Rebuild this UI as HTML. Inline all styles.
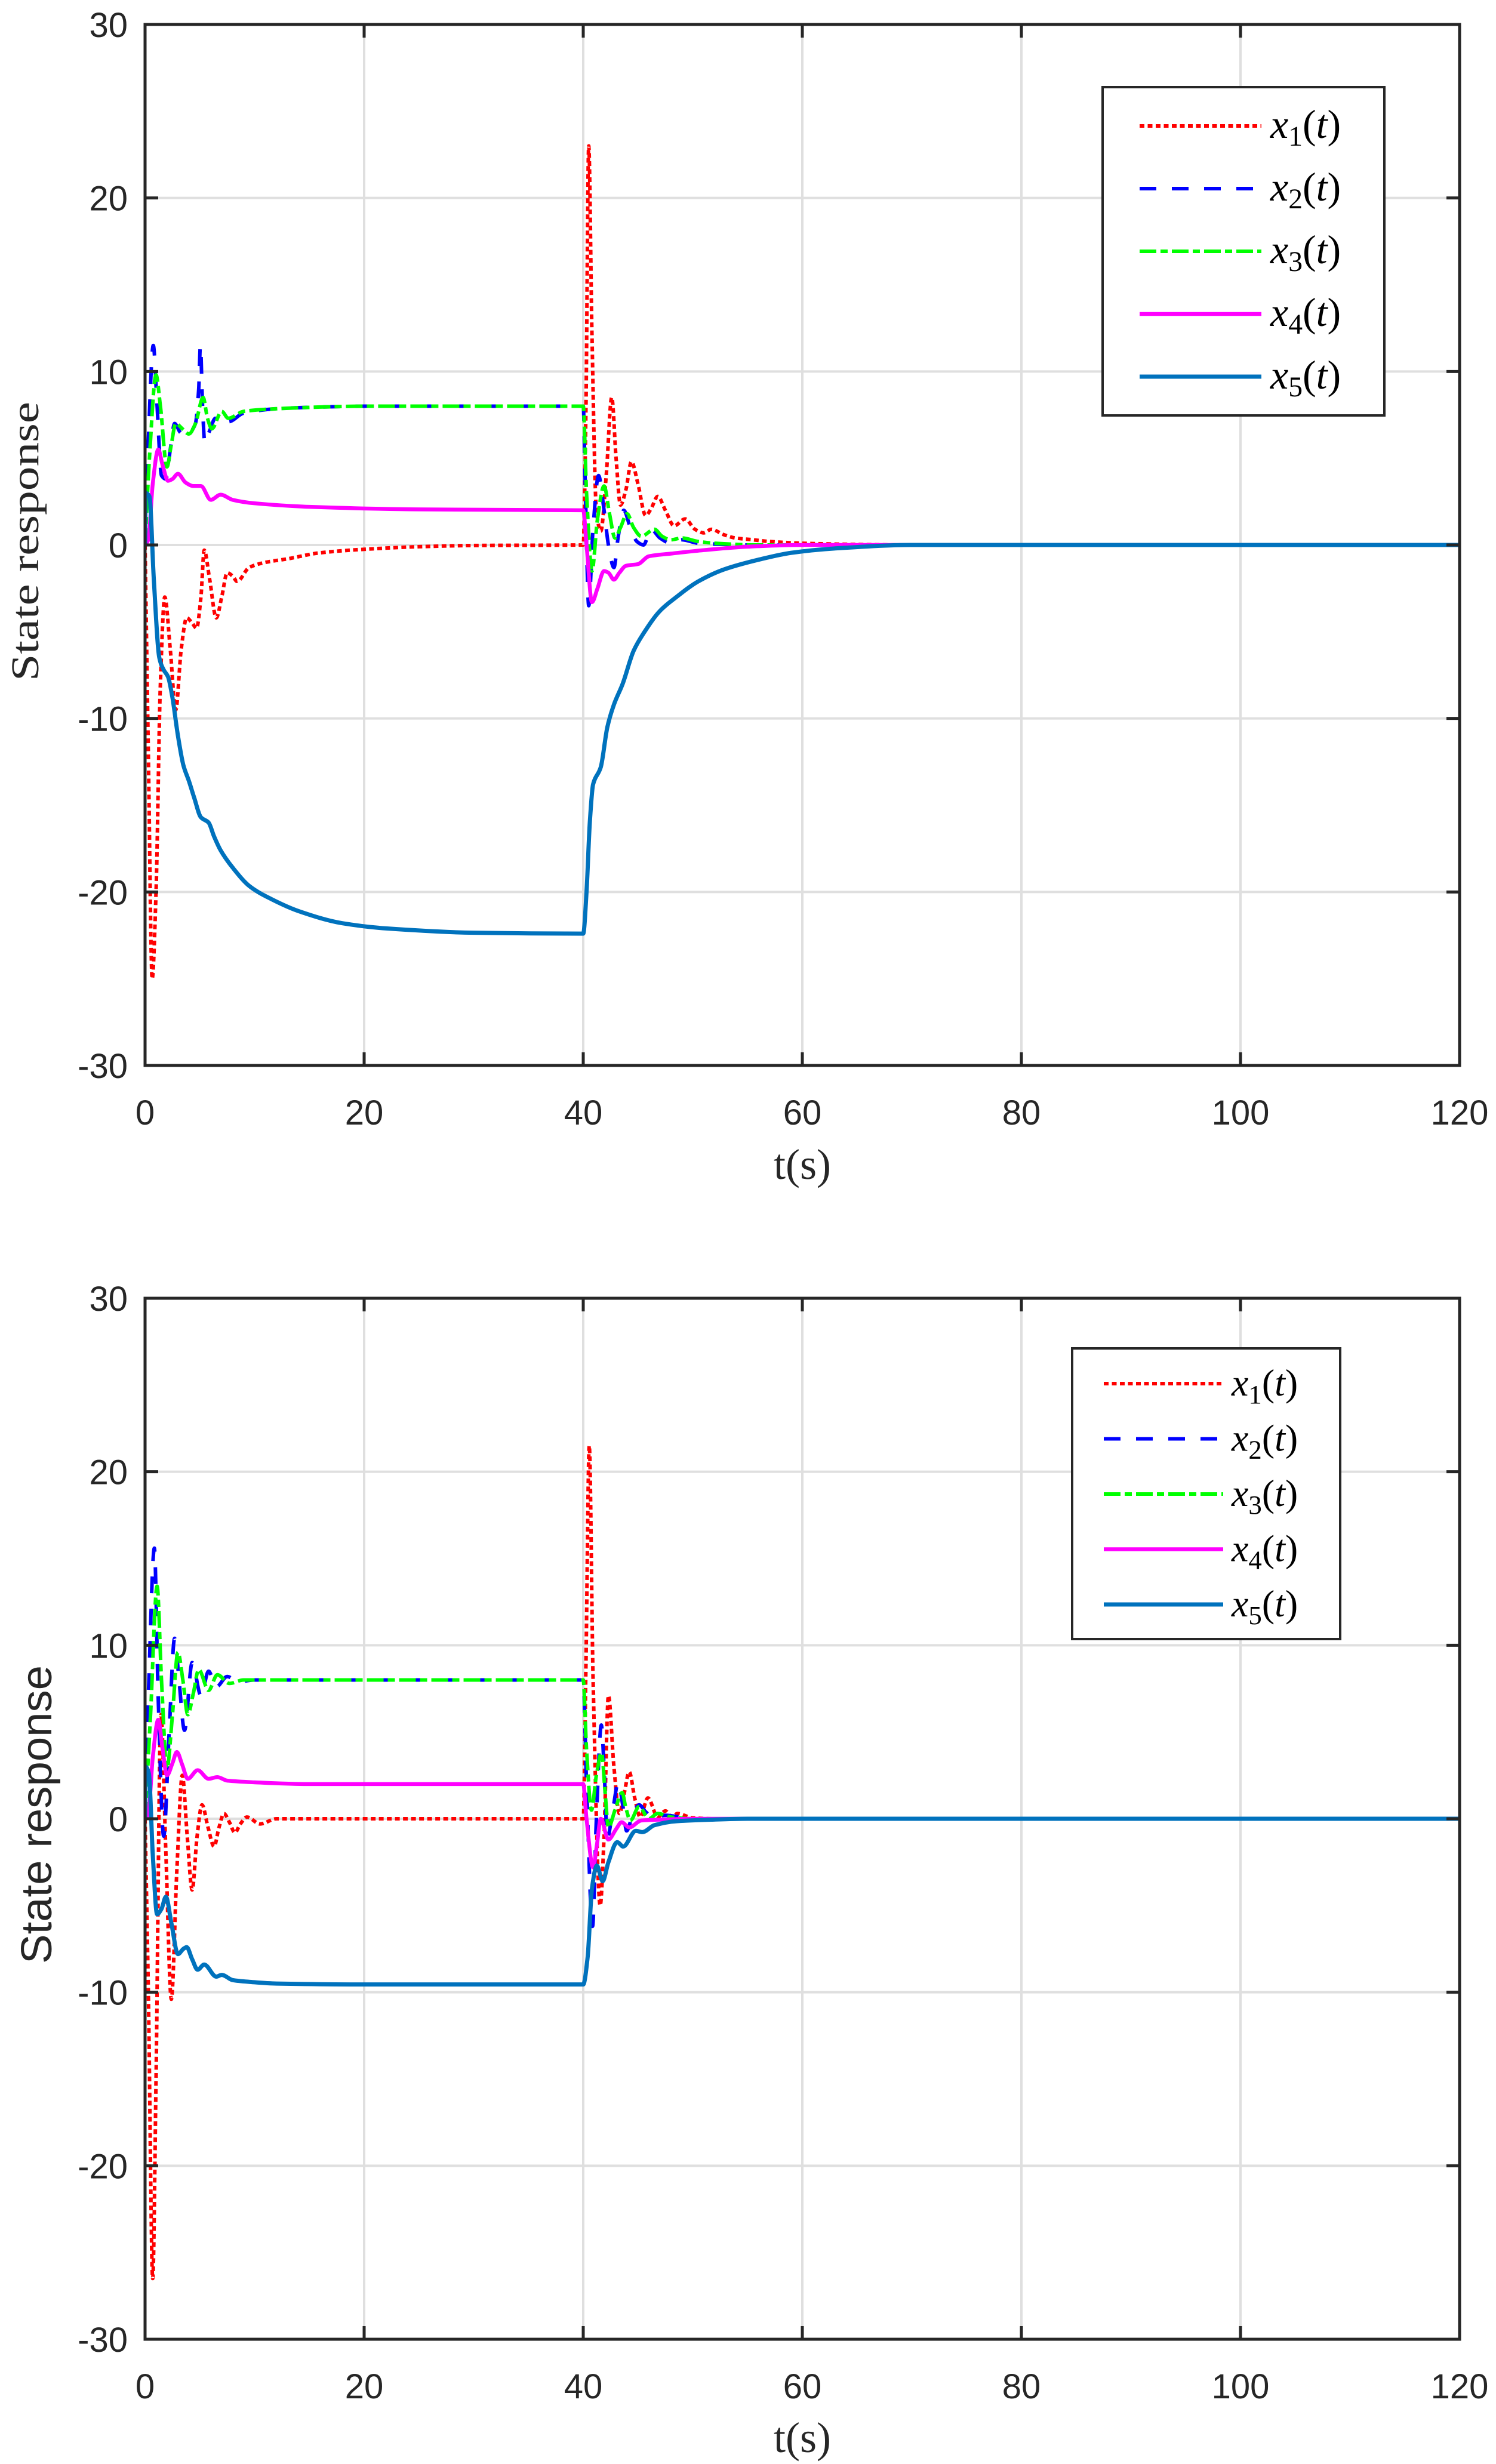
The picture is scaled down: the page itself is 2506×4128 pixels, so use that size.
<!DOCTYPE html>
<html><head><meta charset="utf-8"><style>
html,body{margin:0;padding:0;background:#fff;}
svg{display:block;}
</style></head><body>
<svg id="fig" xmlns="http://www.w3.org/2000/svg" width="2506" height="4128" viewBox="0 0 2506 4128"></svg>
<script>
// ---- chart data (shared axes) ----
const xTicks = [0,20,40,60,80,100,120];
const yTicks = [-30,-20,-10,0,10,20,30];
const seriesNames = ["x1","x2","x3","x4","x5"];

// ---- top plot ----
const topX1T = [0,0.3,0.65,1.0,1.4,1.8,2.3,2.8,3.3,3.8,4.3,4.7,5.1,5.4,5.9,6.5,7.0,7.5,8.0,8.4,9.5,11,13,16,20,25,30,40,40.25,40.5,40.8,41.2,41.6,42.1,42.6,43.0,43.4,43.9,44.4,45.0,45.7,46.2,46.8,47.5,48.3,49.3,50.2,51.0,51.7,52.8,53.9,55.5,57,60,65,70,120];
const topX1V = [0,-12,-25,-20,-8,-3,-6,-9.5,-6,-4.2,-4.5,-4.8,-3,-0.3,-2,-4.2,-3,-1.6,-1.8,-2.1,-1.3,-1.0,-0.8,-0.45,-0.25,-0.1,-0.03,0,8,23,12,2,0.8,4,8.5,5,2.3,3.2,4.8,3.5,1.7,2.1,2.8,2,1.1,1.5,0.9,0.7,0.9,0.6,0.4,0.3,0.2,0.1,0.03,0,0];
const topX2T = [0,0.3,0.75,1.1,1.5,1.9,2.3,2.7,3.2,3.6,4.1,4.6,4.9,5.05,5.25,5.45,5.9,6.4,7.0,7.6,9,12,16,20,40,40.2,40.5,40.9,41.4,41.9,42.3,42.8,43.2,43.7,44.3,44.9,45.5,46.2,47,48,49,50.5,52,55,120];
const topX2V = [0,6,11.5,8,4,3.8,5.5,7.0,6.5,6.3,6.5,7.0,9,11.5,8,5.9,6.6,7.3,7.4,7.1,7.6,7.85,7.95,8,8,3,-3.5,1,4,2,0,-1.3,0.5,2,1,0.2,0,0.9,0.4,0.1,0.3,0.1,0.05,0,0];
const topX3T = [0,0.4,1.0,1.4,2.0,2.4,2.8,3.4,4.0,4.6,5.3,5.7,6.1,7.0,7.6,9,12,16,20,40,40.3,40.8,41.3,41.9,42.4,42.9,43.4,44,44.6,45.3,46.5,47.2,48,49,50.5,52,56,120];
const topX3V = [0,5,9.8,8,4.5,5.8,7,6.7,6.4,7.0,8.5,7.3,6.7,7.7,7.3,7.7,7.85,7.95,8,8,3,-1.5,1.5,3.4,1.8,0.4,1.0,1.8,1.0,0.5,0.9,0.5,0.3,0.4,0.2,0.1,0,0];
const topX4T = [0,0.3,0.7,1.2,1.6,2.1,2.5,3.0,3.7,4.4,5.1,6.0,6.9,8,10,15,25,40,40.3,40.8,41.3,41.9,42.3,42.8,43.3,43.9,45,46,48,51,55,60,120];
const topX4V = [0,0.3,3.5,5.5,4.6,3.7,3.8,4.1,3.6,3.4,3.4,2.6,2.9,2.6,2.4,2.2,2.05,2,0,-3.3,-2.5,-1.5,-1.6,-2.0,-1.6,-1.2,-1.1,-0.65,-0.5,-0.3,-0.1,0,0];
const topX5T = [0,0.05,0.4,0.8,1.3,1.7,2.1,2.5,3.0,3.5,4.0,4.5,5.1,5.8,6.3,6.9,8,9.6,11.5,14,18,22,30,40,40.3,40.6,40.9,41.6,42.2,42.8,43.6,44.6,45.5,47,48.3,50.5,52.9,56,59,63,70,120];
const topX5V = [0,3,2.8,-2,-6.5,-7.2,-7.6,-8.8,-11,-12.7,-13.6,-14.6,-15.7,-16,-16.8,-17.6,-18.6,-19.7,-20.4,-21.1,-21.8,-22.1,-22.35,-22.4,-20,-16,-13.8,-12.8,-10.5,-9.2,-8,-6.1,-5.1,-3.8,-3.1,-2.1,-1.4,-0.85,-0.45,-0.2,0,0];

// ---- bottom plot ----
const botX1T = [0,0.3,0.7,1.0,1.45,1.9,2.4,2.9,3.4,3.85,4.3,4.75,5.2,5.75,6.3,6.75,7.2,7.7,8.2,8.7,9.3,10.5,12,40,40.25,40.55,40.9,41.55,41.9,42.3,42.8,43.3,43.75,44.2,44.7,45.2,45.9,46.8,47.5,48.1,48.6,50,52,120];
const botX1V = [0,-10,-26.5,-15,6,-2,-10.4,-3,2.5,-1,-4.1,-1,0.8,-0.5,-1.6,-0.5,0.3,-0.2,-0.8,-0.3,0.1,-0.3,0,0,9,21.5,8,-5,-1,7.1,3,0.3,1.5,2.7,1.2,0.1,1.2,0.1,0.45,0.1,0.3,0.05,0,0];
const botX2T = [0,0.35,0.85,1.2,1.7,2.2,2.7,3.1,3.6,4.3,5.1,5.8,6.5,7.5,8.5,10,40,40.3,40.85,41.2,41.65,41.9,42.2,42.7,43.2,43.6,43.96,44.5,45.1,45.7,46.3,47.5,50,120];
const botX2V = [0,8,15.6,7,-1,5,10.4,8,5.1,9,7.1,8.5,7.6,8.2,7.9,8,8,2,-6.2,0,5.4,3,-1.1,0.5,2.1,0.8,-0.7,0.2,0.8,0.4,0.1,0.2,0,0];
const botX3T = [0,0.5,1.1,1.5,2.0,2.5,3.0,3.45,3.9,4.4,4.9,5.8,6.6,7.7,9,40,40.3,40.75,41.2,41.67,42,42.3,42.9,43.55,43.9,44.3,45.1,46,46.8,48,50,120];
const botX3V = [0,6,13.4,8,2.9,6,9.6,8,6,7.2,8.6,7.4,8.3,7.8,8,8,4,0.5,2.5,3.8,1.5,-0.5,0.5,1.5,0.6,-0.1,0.7,0,0.3,0.1,0,0];
const botX4T = [0,0.3,0.7,1.2,1.6,2.0,2.5,2.9,3.4,3.9,4.8,5.8,6.6,7.5,10,15,40,40.3,40.9,41.25,41.6,42.3,43.0,43.5,44.2,45.3,47,50,120];
const botX4V = [0,0.3,3.5,5.7,4,2.5,3.2,3.85,3.1,2.3,2.8,2.3,2.4,2.2,2.1,2,2,0,-2.8,-1.5,0,-1.2,-0.6,-0.2,-0.5,-0.1,-0.05,0,0];
const botX5T = [0,0.05,0.35,0.7,1.1,1.5,1.9,2.4,3.0,3.5,3.8,4.3,4.8,5.4,6.5,7.0,8.0,9.5,12,20,40,40.4,40.8,41.25,41.77,42.3,43.1,43.65,44.8,45.4,46.5,48.5,51.7,55,120];
const botX5V = [0,3,2.6,-2,-5.5,-5.2,-4.5,-6,-7.8,-7.5,-7.4,-8.1,-8.7,-8.4,-9.1,-9.0,-9.3,-9.4,-9.5,-9.55,-9.55,-8,-4,-2.7,-3.6,-2.5,-1.35,-1.6,-0.7,-0.77,-0.37,-0.14,-0.05,0,0];

const NS = "http://www.w3.org/2000/svg";
const svg = document.getElementById("fig");
const styles = [
  {color:"#ff0000", dash:"8 5.5", w:6},
  {color:"#0000ff", dash:"28 26", w:6},
  {color:"#00ff00", dash:"28 7 12 7", w:6},
  {color:"#ff00ff", dash:"", w:6.5},
  {color:"#0072bd", dash:"", w:7}
];
function mk(tag, attrs, parent){
  const e = document.createElementNS(NS, tag);
  for (const k in attrs) e.setAttribute(k, attrs[k]);
  (parent||svg).appendChild(e);
  return e;
}
// monotone cubic (Fritsch-Carlson) smoothing: no overshoot
function smoothPath(P){
  const n = P.length;
  const d = [];
  for (let i=0;i<n-1;i++){
    const h = P[i+1][0]-P[i][0];
    d.push(h>0 ? (P[i+1][1]-P[i][1])/h : 0);
  }
  const m = new Array(n);
  m[0]=d[0]; m[n-1]=d[n-2];
  for (let i=1;i<n-1;i++){
    m[i] = (d[i-1]*d[i] <= 0) ? 0 : 2/(1/d[i-1]+1/d[i]);
  }
  let s = "M" + P[0][0].toFixed(1) + "," + P[0][1].toFixed(1);
  for (let i=0;i<n-1;i++){
    const h = (P[i+1][0]-P[i][0])/3;
    s += " C"+(P[i][0]+h).toFixed(1)+","+(P[i][1]+m[i]*h).toFixed(1)+" "+
         (P[i+1][0]-h).toFixed(1)+","+(P[i+1][1]-m[i+1]*h).toFixed(1)+" "+
         P[i+1][0].toFixed(1)+","+P[i+1][1].toFixed(1);
  }
  return s;
}
function drawPlot(cfg){
  const L=243, R=2445, T=cfg.top, B=cfg.top+1744;
  const xs = t => L + (t-0)/(120-0)*(R-L);
  const ys = v => B - (v+30)/60*(B-T);
  const g = mk("g",{});
  
  
  for (const t of xTicks){
    if (t===0||t===120) continue;
    const l = mk("line",{x1:xs(t),x2:xs(t),y1:T,y2:B,stroke:"#dfdfdf","stroke-width":4},g);
    
    
  }
  for (const v of yTicks){
    if (v===-30||v===30) continue;
    const l = mk("line",{x1:L,x2:R,y1:ys(v),y2:ys(v),stroke:"#dfdfdf","stroke-width":4},g);
    
    
  }
  const cid = "clip"+cfg.top;
  const cp = mk("clipPath",{id:cid},g);
  mk("rect",{x:L,y:T,width:R-L,height:B-T},cp);
  const sg = mk("g",{"clip-path":"url(#"+cid+")"},g);
  cfg.series.forEach((s,i)=>{
    const P = s[0].map((t,k)=>[xs(t), ys(s[1][k])]);
    const st = styles[i];
    const a = {d:smoothPath(P),fill:"none",stroke:st.color,"stroke-width":st.w,"stroke-linejoin":"round"};
    if (st.dash) a["stroke-dasharray"]=st.dash;
    const p = mk("path",a,sg);
    
    
  });
  for (const t of xTicks){
    for (const [y1,y2] of [[B,B-22],[T,T+22]]){
      const l = mk("line",{x1:xs(t),x2:xs(t),y1:y1,y2:y2,stroke:"#262626","stroke-width":5},g);
      
      
    }
    const tx = mk("text",{x:xs(t),y:cfg.xLabY,"text-anchor":"middle","font-family":"Liberation Sans, sans-serif","font-size":58,fill:"#262626"},g);
    tx.textContent = t;
    
    
  }
  for (const v of yTicks){
    for (const [x1,x2] of [[L,L+22],[R,R-22]]){
      const l = mk("line",{x1:x1,x2:x2,y1:ys(v),y2:ys(v),stroke:"#262626","stroke-width":5},g);
      
      
    }
    const tx = mk("text",{x:214,y:ys(v)+21,"text-anchor":"end","font-family":"Liberation Sans, sans-serif","font-size":58,fill:"#262626"},g);
    tx.textContent = v;
    
    
  }
  const box = mk("rect",{x:L,y:T,width:R-L,height:B-T,fill:"none",stroke:"#262626","stroke-width":5},g);
  
  
  const xt = mk("text",{x:(L+R)/2,y:cfg.xTitleY,"text-anchor":"middle","font-family":"Liberation Serif, serif","font-size":72,fill:"#262626"},g);
  xt.textContent = "t(s)";
  
  
  const yt = mk("text",{x:0,y:0,transform:"translate("+cfg.yTitleX+","+cfg.yTitleCY+") rotate(-90)","text-anchor":"middle","font-family":cfg.yFont,"font-size":cfg.yFontSize,fill:"#262626",textLength:cfg.yLen,lengthAdjust:"spacingAndGlyphs"},g);
  yt.textContent = "State response";
  
  
  const lg = cfg.legend;
  const lgg = mk("g",{},g);
  
  
  mk("rect",{x:lg.x,y:lg.y,width:lg.w,height:lg.h,fill:"#fff",stroke:"#262626","stroke-width":4},lgg);
  for (let i=0;i<5;i++){
    const y = lg.row0 + i*lg.dy;
    const st = styles[i];
    const e = mk("g",{},lgg);
    
    
    const a = {x1:lg.lx1,x2:lg.lx2,y1:y,y2:y,stroke:st.color,"stroke-width":st.w};
    if (st.dash) a["stroke-dasharray"]=st.dash;
    mk("line",a,e);
    const tx = mk("text",{x:lg.tx,y:y+20,"font-family":"Liberation Serif, serif","font-size":lg.fs,fill:"#000"},e);
    const s1 = mk("tspan",{"font-style":"italic"},tx); s1.textContent="x";
    const s2 = mk("tspan",{"font-size":lg.fs*0.7,dy:13},tx); s2.textContent=String(i+1);
    const s3 = mk("tspan",{dy:-13},tx); s3.textContent="(";
    const s4 = mk("tspan",{"font-style":"italic"},tx); s4.textContent="t";
    const s5 = mk("tspan",{},tx); s5.textContent=")";
  }
}
drawPlot({name:"top-plot", top:41, xLabY:1884, xTitleY:1975, yTitleX:64, yTitleCY:907, yFont:"Liberation Serif, serif", yFontSize:66, yLen:468,
  series:[[topX1T,topX1V],[topX2T,topX2V],[topX3T,topX3V],[topX4T,topX4V],[topX5T,topX5V]],
  legend:{x:1847,y:146,w:472,h:550,row0:211,dy:105,lx1:1909,lx2:2113,tx:2128,fs:68}});
drawPlot({name:"bottom-plot", top:2175, xLabY:4018, xTitleY:4108, yTitleX:86, yTitleCY:3040, yFont:"Liberation Sans, sans-serif", yFontSize:72, yLen:500,
  series:[[botX1T,botX1V],[botX2T,botX2V],[botX3T,botX3V],[botX4T,botX4V],[botX5T,botX5V]],
  legend:{x:1796,y:2259,w:449,h:487,row0:2318,dy:92.5,lx1:1849,lx2:2049,tx:2063,fs:64}});
</script>
</body></html>
